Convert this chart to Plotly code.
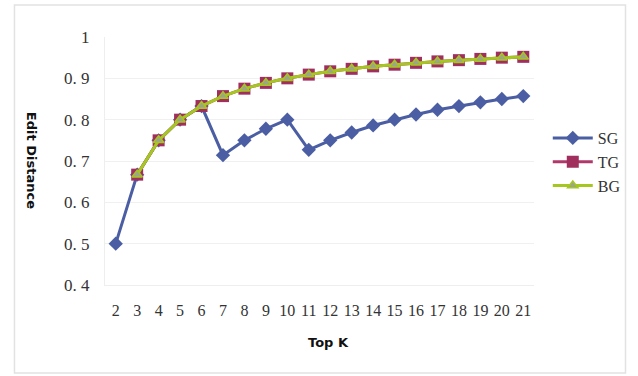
import plotly.graph_objects as go

# Top-K values on the x axis
top_k = [str(k) for k in range(2, 22)]

# Edit distance per method
sg = [0.5, 0.667, 0.75, 0.8, 0.833, 0.714, 0.75, 0.778, 0.8, 0.727,
      0.75, 0.769, 0.786, 0.8, 0.8125, 0.824, 0.833, 0.842, 0.85, 0.857]
tg = [None, 0.667, 0.75, 0.8, 0.833, 0.857, 0.875, 0.889, 0.9, 0.909,
      0.917, 0.923, 0.929, 0.933, 0.9375, 0.941, 0.944, 0.947, 0.95, 0.952]
bg = [None, 0.667, 0.75, 0.8, 0.833, 0.857, 0.875, 0.889, 0.9, 0.909,
      0.917, 0.923, 0.929, 0.933, 0.9375, 0.941, 0.944, 0.947, 0.95, 0.952]

y_ticks = [0.4, 0.5, 0.6, 0.7, 0.8, 0.9, 1.0]
y_tick_text = ["0. 4", "0. 5", "0. 6", "0. 7", "0. 8", "0. 9", "1"]

W, H = 638, 376
L, R, T, B = 105, 97, 37, 91
pw, ph = W - L - R, H - T - B


def px(x):
    return (x - L) / pw


def py(y):
    return (H - B - y) / ph


serif = "Liberation Serif, DejaVu Serif, serif"
sans = "DejaVu Sans, Arial, sans-serif"

fig = go.Figure()
fig.add_trace(go.Scatter(
    x=top_k, y=sg, name="SG", mode="lines+markers",
    line=dict(color="#4B5EA3", width=3),
    marker=dict(symbol="diamond", size=11, color="#4B5EA3"),
))
fig.add_trace(go.Scatter(
    x=top_k, y=tg, name="TG", mode="lines+markers",
    line=dict(color="#B0386A", width=3),
    marker=dict(symbol="square", size=12, color="#A12F5E"),
))
fig.add_trace(go.Scatter(
    x=top_k, y=bg, name="BG", mode="lines+markers",
    line=dict(color="#A6C71F", width=3),
    marker=dict(symbol="triangle-up", size=9, color="#9CA58A",
                line=dict(color="#A6C71F", width=1.5)),
))

fig.update_layout(
    width=W, height=H,
    margin=dict(l=L, r=R, t=T, b=B),
    paper_bgcolor="white", plot_bgcolor="white",
    showlegend=True,
    legend=dict(
        x=px(555), y=py(162), xanchor="left", yanchor="middle",
        font=dict(family=serif, size=16, color="#333"),
        tracegroupgap=6, itemwidth=40,
        bgcolor="rgba(0,0,0,0)",
    ),
    xaxis=dict(
        type="category", range=[-0.5, len(top_k) - 0.5],
        showgrid=False, zeroline=False,
        showline=True, linecolor="#eeeeee", linewidth=1,
        ticks="", tickfont=dict(family=serif, size=16, color="#333"),
        ticklabelstandoff=11,
    ),
    yaxis=dict(
        range=[0.4, 1.0], tickvals=y_ticks, ticktext=y_tick_text,
        showgrid=True, gridcolor="#f0f0f0", gridwidth=1,
        zeroline=False, showline=True, linecolor="#eeeeee", linewidth=1,
        ticks="", tickfont=dict(family=serif, size=17, color="#333"),
        ticklabelstandoff=11,
    ),
    annotations=[
        dict(text="<b>Edit Distance</b>", textangle=90,
             x=px(31), y=py(160), xref="paper", yref="paper",
             xanchor="center", yanchor="middle",
             showarrow=False, font=dict(family=sans, size=13, color="#111")),
        dict(text="<b>Top K</b>",
             x=px(332), y=py(342), xref="paper", yref="paper",
             xanchor="center", yanchor="middle",
             showarrow=False, font=dict(family=sans, size=13, color="#111")),
    ],
    shapes=[
        dict(type="rect", xref="paper", yref="paper",
             x0=px(13), x1=px(634), y0=py(373), y1=py(5),
             line=dict(color="#e2e2e2", width=1.5), layer="below"),
    ],
)

fig.write_html("out.html")
